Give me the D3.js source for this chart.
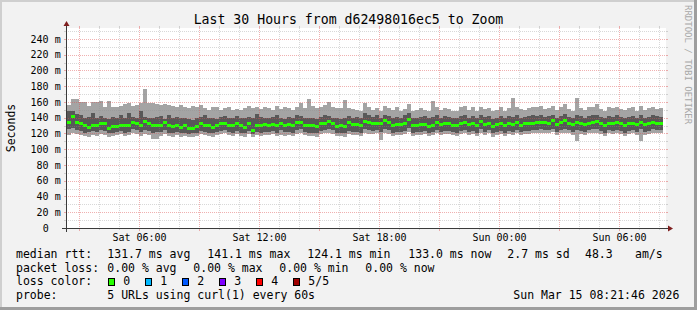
<!DOCTYPE html>
<html><head><meta charset="utf-8">
<script src="https://cdn.jsdelivr.net/npm/d3@7/dist/d3.min.js"></script>
<style>html,body{margin:0;padding:0;background:#f2f2f2}svg{display:block}</style>
</head><body><svg id="c" width="697" height="310"></svg>
<script>
// ---------- data ----------
const title = "Last 30 Hours from d62498016ec5 to Zoom";
const yAxisLabel = "Seconds";
const watermark = "RRDTOOL / TOBI OETIKER";
const startTime = new Date(2026, 2, 14, 2, 21, 46);
const endTime = new Date(2026, 2, 15, 8, 21, 46);
const firstBarTime = new Date(2026, 2, 14, 2, 24, 0);
const stepMinutes = 12;

// five sorted samples per step (ms): min, 2nd, median, 4th, max
const pMin = [
118,121,119,118,117,116,118,117,119,118,
116,117,118,119,117,118,120,119,117,119,
118,113,113,117,119,117,116,118,116,117,
115,116,117,119,118,117,116,118,119,120,
118,117,119,117,116,119,115,118,117,118,
118,119,117,118,117,118,117,119,120,118,
117,117,116,119,120,120,119,117,117,116,
119,118,118,117,120,119,119,120,112,121,
119,117,118,118,119,122,117,118,118,119,
117,118,120,118,119,119,118,117,119,120,
118,119,117,121,118,120,116,118,119,117,
119,118,120,118,119,119,120,120,121,120,
120,122,118,120,121,120,118,110,119,118,
120,121,121,119,117,120,119,120,119,117,
119,120,118,111,118,119,121,120,120];
const pLow = [
126,127,124,123,121,122,123,122,124,123,
120,121,122,123,121,122,125,124,122,124,
123,121,122,122,124,121,120,122,120,121,
119,120,121,123,122,121,120,122,123,124,
122,121,123,121,120,123,119,122,121,122,
122,123,121,124,122,122,121,124,125,122,
121,121,120,123,124,125,124,121,121,120,
123,122,122,121,125,124,123,124,122,126,
124,121,122,122,123,127,121,122,122,123,
121,122,124,122,123,123,122,121,123,124,
122,123,121,125,122,124,120,122,123,121,
123,122,124,122,123,123,124,124,125,124,
124,126,122,124,126,124,122,124,123,122,
124,125,125,123,121,124,123,124,123,121,
123,124,122,125,122,123,125,124,124];
const median = [
134,141.1,134,132.8,129.9,127.7,130.7,129.9,132.8,132,
126.5,128.6,128.6,130.7,129.9,130.7,134.1,132.8,130.7,135,
132.8,129.9,129.9,130.7,134.1,129.9,128.6,130.7,127.7,129.9,
126.5,126.5,129.4,132.8,130.7,130.7,127.7,130.7,132,132.8,
130.7,130.7,132,129.9,127.7,132,124.1,130.7,130.7,131,
130.7,131.5,130.7,132.5,130,131,130.5,133.5,134,130.7,
130.7,129.5,129.4,132,133,135.5,133,129.4,129.9,128.7,
133.4,131.5,131.5,130,135.5,134,133,133,132,137,
134,130,131,131,133,138.3,130,130.7,131,131.5,
129.4,130.7,134,131,132,132,130.7,130.7,132,134,
131.5,132,130,135,131,133,129,131,132,130,
133,131,133.4,130.7,132,132,133,134,134,133.5,
133,136,131,134,137,133,131,134,133,131.5,
133,134,135,132,130,133,132,134,132,130,
132,133,131,134,131,132,134,133,133];
const pHigh = [
148,148,145,143,140,141,146,139,142,140,
138,141,140,143,139,146,141,140,148,141,
140,139,141,142,138,144,139,141,140,139,
138,137,140,141,143,139,140,138,141,142,
140,139,142,140,139,141,140,145,141,140,
139,141,143,140,138,141,140,144,142,139,
140,139,138,141,144,142,139,140,138,140,
142,140,141,139,146,143,141,143,140,144,
142,140,141,139,143,146,139,140,141,142,
139,141,143,140,142,141,139,140,142,144,
140,142,139,143,141,142,138,140,142,139,
142,141,143,140,141,142,143,142,144,141,
142,144,140,142,145,141,140,143,142,140,
142,143,144,141,139,142,141,143,141,139,
141,142,140,143,140,141,143,142,141];
const pMax = [
156,164,164,160,160,155,160,160,161,154,
161,153,154,155,157,158,155,156,158,176,
158,158,157,156,157,156,155,154,156,153,
152,155,153,156,152,150,154,153,150,152,
153,150,151,150,152,155,152,153,151,154,
152,150,155,151,153,152,150,154,158,152,
164,155,152,153,156,160,154,152,152,163,
152,151,150,149,159,153,150,152,149,155,
152,150,153,149,151,157,149,150,152,150,
149,161,153,150,152,151,149,149,154,155,
150,153,149,154,151,152,149,150,153,149,
152,165,153,151,150,152,154,153,155,151,
152,155,150,153,157,151,149,165,152,150,
153,154,157,151,149,153,152,154,151,150,
152,153,149,155,150,152,154,151,152];

const yTicks = [0,20,40,60,80,100,120,140,160,180,200,220,240];
const yTickLabels = ["0","20 m","40 m","60 m","80 m","100 m","120 m","140 m","160 m","180 m","200 m","220 m","240 m"];

const lossLabels = ["0","1","2","3","4","5/5"];
const lossColors = ["#26ff00","#00b8ff","#0059ff","#7e00ff","#ff0000","#a00000"];

const rttStats = ["131.7 ms avg","141.1 ms max","124.1 ms min","133.0 ms now","2.7 ms sd","48.3","am/s"];
const lossStats = ["0.00 % avg","0.00 % max","0.00 % min","0.00 % now"];
const probeText = "5 URLs using curl(1) every 60s";
const stampText = "Sun Mar 15 08:21:46 2026";

// ---------- drawing ----------
const svg = d3.select("#c");
const W = 697, H = 310;
const X0 = 66, X1 = 666, Y0 = 228, Y1 = 28;
const MONO = "'DejaVu Sans Mono', monospace";

const x = d3.scaleTime().domain([startTime, endTime]).range([X0, X1]);
const y = d3.scaleLinear().domain([0, 253.8]).range([Y0, Y1]);

svg.append("rect").attr("width", W).attr("height", H).attr("fill", "#f2f2f2");
// shaded border
svg.append("rect").attr("x",0).attr("y",0).attr("width",W).attr("height",2).attr("fill","#cfcfcf");
svg.append("rect").attr("x",0).attr("y",0).attr("width",2).attr("height",H).attr("fill","#cfcfcf");
svg.append("rect").attr("x",0).attr("y",H-3).attr("width",W).attr("height",3).attr("fill","#9e9e9e");
svg.append("rect").attr("x",W-3).attr("y",0).attr("width",3).attr("height",H).attr("fill","#9e9e9e");

// canvas
svg.append("rect").attr("x", X0).attr("y", Y1).attr("width", X1 - X0).attr("height", Y0 - Y1).attr("fill", "#ffffff");

// bars
const bars = median.map((m, i) => {
  const t0 = d3.timeMinute.offset(firstBarTime, i * stepMinutes);
  const t1 = d3.timeMinute.offset(firstBarTime, (i + 1) * stepMinutes);
  return {t0, t1, p1: pMin[i], p2: pLow[i], m, p4: pHigh[i], p5: pMax[i]};
});
const g = svg.append("g").attr("shape-rendering", "crispEdges");
const bx = d => Math.round(x(d.t0));
const bw = d => Math.round(x(d.t1)) - Math.round(x(d.t0));
g.selectAll("rect.l").data(bars).join("rect").attr("class","l")
  .attr("x", bx).attr("width", bw)
  .attr("y", d => Math.round(y(d.p5))).attr("height", d => Math.round(y(d.p1)) - Math.round(y(d.p5)))
  .attr("fill", "#a4a4a4");
g.selectAll("rect.d").data(bars).join("rect").attr("class","d")
  .attr("x", bx).attr("width", bw)
  .attr("y", d => Math.round(y(d.p4))).attr("height", d => Math.round(y(d.p2)) - Math.round(y(d.p4)))
  .attr("fill", "#585858");
g.selectAll("rect.m").data(bars).join("rect").attr("class","m")
  .attr("x", bx).attr("width", bw)
  .attr("y", d => Math.round(y(d.m) - 1.5)).attr("height", 3)
  .attr("fill", lossColors[0]);

// grid
const grid = svg.append("g").attr("shape-rendering", "crispEdges");
const minorCol = "rgba(143,143,143,0.35)", majorCol = "rgba(222,80,80,0.45)";
const hLines = d3.range(10, 251, 10);
hLines.forEach(v => {
  const yy = Math.round(y(v)) + 0.5;
  const major = v % 20 === 0;
  const col = major ? majorCol : minorCol;
  grid.append("line").attr("x1", X0).attr("x2", X1).attr("y1", yy).attr("y2", yy)
    .attr("stroke", col).attr("stroke-dasharray", "1,1");
  grid.append("line").attr("x1", X0 - 2).attr("x2", X0).attr("y1", yy).attr("y2", yy).attr("stroke", col);
  grid.append("line").attr("x1", X1).attr("x2", X1 + 2).attr("y1", yy).attr("y2", yy).attr("stroke", col);
});
const hours = d3.timeHour.range(d3.timeHour.ceil(startTime), endTime);
hours.forEach(t => {
  const xx = Math.round(x(t)) + 0.5;
  const major = t.getHours() % 3 === 0;
  const col = major ? majorCol : minorCol;
  grid.append("line").attr("x1", xx).attr("x2", xx).attr("y1", Y1).attr("y2", Y0)
    .attr("stroke", col).attr("stroke-dasharray", "1,1");
  grid.append("line").attr("x1", xx).attr("x2", xx).attr("y1", Y0).attr("y2", Y0 + (major ? 3 : 2)).attr("stroke", col);
  grid.append("line").attr("x1", xx).attr("x2", xx).attr("y1", Y1 - 2).attr("y2", Y1).attr("stroke", col);
});

// axes
const axisCol = "#3a3a3a";
svg.append("line").attr("x1", X0 - 4).attr("x2", X1 + 4).attr("y1", Y0 + 0.5).attr("y2", Y0 + 0.5)
  .attr("stroke", axisCol).attr("shape-rendering", "crispEdges");
svg.append("line").attr("x1", X0 + 0.5).attr("x2", X0 + 0.5).attr("y1", Y0 + 4).attr("y2", Y1 - 4)
  .attr("stroke", axisCol).attr("shape-rendering", "crispEdges");
svg.append("path").attr("d", `M${X1+2},${Y0-2.5}L${X1+2},${Y0+3.5}L${X1+7},${Y0+0.5}Z`).attr("fill", "#7f1f1f");
svg.append("path").attr("d", `M${X0-2.5},${Y1-2}L${X0+3.5},${Y1-2}L${X0+0.5},${Y1-7}Z`).attr("fill", "#7f1f1f");

// y tick labels
svg.append("g").selectAll("text").data(yTicks).join("text")
  .attr("x", (d, i) => i === 0 ? 48.7 : 60.7)
  .attr("y", d => y(d) + 3.7)
  .attr("text-anchor", "end")
  .attr("font-family", MONO).attr("font-size", "10px").attr("fill", "#000")
  .text((d, i) => yTickLabels[i]);

// x tick labels
const labelTimes = hours.filter(t => t.getHours() % 6 === 0);
const fmt = d3.timeFormat("%a %H:%M");
svg.append("g").selectAll("text").data(labelTimes).join("text")
  .attr("x", d => Math.round(x(d)) + 0.5).attr("y", 241)
  .attr("text-anchor", "middle")
  .attr("font-family", MONO).attr("font-size", "10px").attr("fill", "#000")
  .text(d => fmt(d));

// title
svg.append("text").attr("x", 348.5).attr("y", 24).attr("text-anchor", "middle")
  .attr("font-family", MONO).attr("font-size", "13.2px").attr("fill", "#000").text(title);

// y axis label
svg.append("text").attr("transform", "translate(15,128) rotate(-90)").attr("text-anchor", "middle")
  .attr("font-family", MONO).attr("font-size", "11.5px").attr("fill", "#000").text(yAxisLabel);

// watermark
svg.append("text").attr("transform", "translate(685,5) rotate(90)")
  .attr("font-family", MONO).attr("font-size", "9px").attr("fill", "#a8a8a8").text(watermark);

// legend
const leg = svg.append("g").attr("font-family", MONO).attr("font-size", "11.5px").attr("fill", "#000")
  .attr("xml:space", "preserve");
const line = (txt, xx, yy) => leg.append("text").attr("x", xx).attr("y", yy).text(txt);
const L1 = 258, L2 = 271.7, L3 = 285.3, L4 = 299;
line("median rtt:", 16, L1);
const rttX = [107.3, 207.3, 307.3, 408.3, 507.3, 585, 635];
rttStats.forEach((s, i) => line(s, rttX[i], L1));
line("packet loss:", 16, L2);
const lossX = [107.3, 193.3, 279.3, 365.3];
lossStats.forEach((s, i) => line(s, lossX[i], L2));
line("loss color:", 16, L3);
const boxX = [108.5, 145.5, 182.5, 219.5, 256.5, 293.5];
lossLabels.forEach((lab, i) => {
  svg.append("rect").attr("x", boxX[i]).attr("y", 278.5).attr("width", 6).attr("height", 7)
    .attr("fill", lossColors[i]).attr("stroke", "#000").attr("stroke-width", 1);
  line(lab, boxX[i] + 14.8, L3);
});
line("probe:", 16, L4);
line(probeText, 107.3, L4);
line(stampText, 513.3, L4);
</script></body></html>
